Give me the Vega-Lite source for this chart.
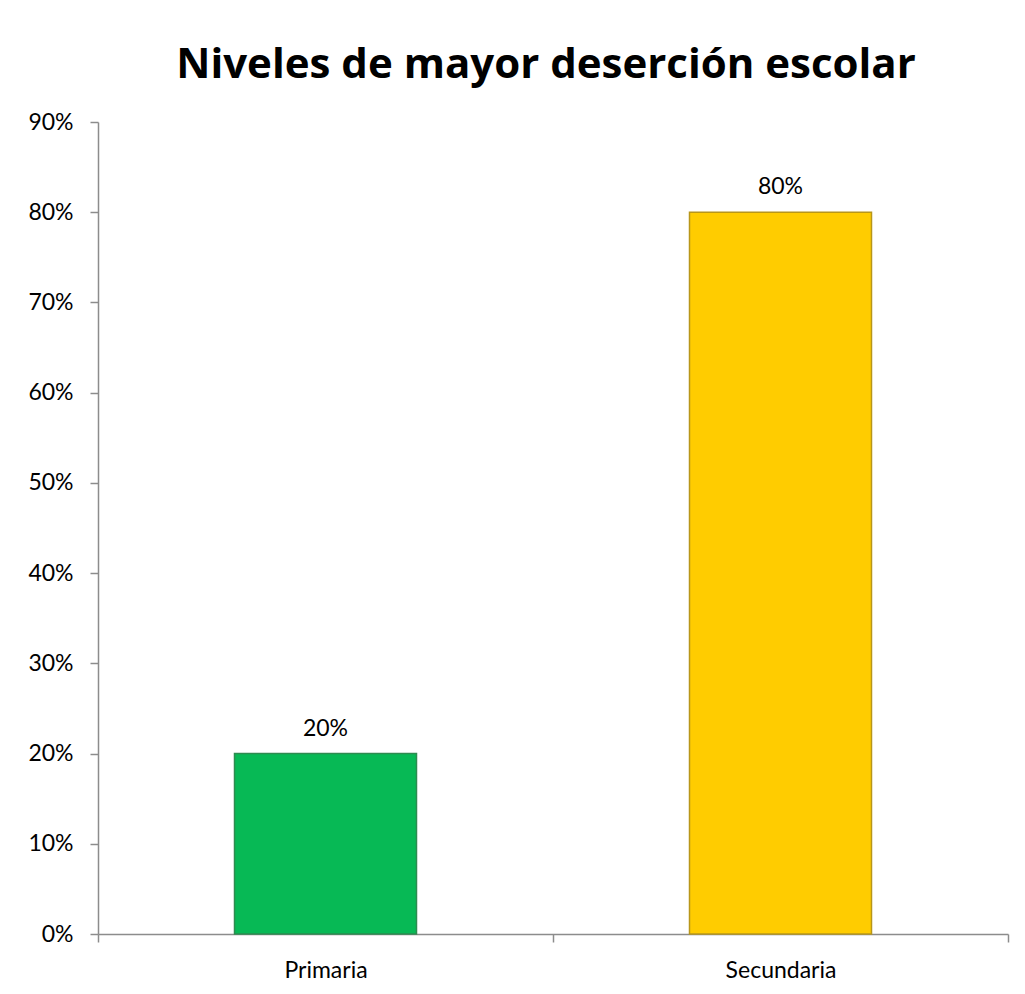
{
  "$schema": "https://vega.github.io/schema/vega-lite/v6.json",
  "autosize": "none",
  "width": 910,
  "height": 812,
  "padding": {"left": 98, "top": 122, "right": 17, "bottom": 60},
  "background": "white",
  "title": {
    "text": "Niveles de mayor deserción escolar",
    "font": "Open Sans",
    "fontSize": 42,
    "fontWeight": "bold",
    "color": "#000000",
    "anchor": "middle",
    "frame": "group",
    "offset": 24,
    "dx": -7
  },
  "data": {
    "values": [
      {"nivel": "Primaria", "valor": 0.2},
      {"nivel": "Secundaria", "valor": 0.8}
    ]
  },
  "encoding": {
    "x": {
      "field": "nivel",
      "type": "nominal",
      "sort": null,
      "title": null,
      "scale": {"paddingInner": 0, "paddingOuter": 0},
      "axis": {
        "tickBand": "extent",
        "labelAngle": 0,
        "labelFont": "Lato",
        "labelFontSize": 23,
        "labelColor": "#000000",
        "labelBaseline": "alphabetic",
        "labelPadding": 35,
        "tickSize": 8,
        "domainColor": "#8c8c8c",
        "tickColor": "#8c8c8c",
        "domainWidth": 1.5,
        "tickWidth": 1.5
      }
    },
    "y": {
      "field": "valor",
      "type": "quantitative",
      "title": null,
      "scale": {"domain": [0, 0.9], "nice": false},
      "axis": {
        "values": [0, 0.1, 0.2, 0.3, 0.4, 0.5, 0.6, 0.7, 0.8, 0.9],
        "format": ".0%",
        "grid": false,
        "labelFont": "Lato",
        "labelFontSize": 23,
        "labelColor": "#000000",
        "labelPadding": 17,
        "tickSize": 8,
        "domainColor": "#8c8c8c",
        "tickColor": "#8c8c8c",
        "domainWidth": 1.5,
        "tickWidth": 1.5
      }
    }
  },
  "layer": [
    {
      "mark": {"type": "bar", "strokeWidth": 1.5, "width": {"band": 0.4}},
      "encoding": {
        "color": {
          "field": "nivel",
          "type": "nominal",
          "scale": {"domain": ["Primaria", "Secundaria"], "range": ["#07B955", "#FFCC00"]},
          "legend": null
        },
        "stroke": {
          "field": "nivel",
          "type": "nominal",
          "scale": {"domain": ["Primaria", "Secundaria"], "range": ["#2E8B50", "#B8961A"]},
          "legend": null
        }
      }
    },
    {
      "mark": {"type": "text", "font": "Lato", "fontSize": 23, "color": "#000000", "baseline": "alphabetic", "dy": -18},
      "encoding": {
        "text": {"field": "valor", "type": "quantitative", "format": ".0%"}
      }
    }
  ],
  "config": {
    "view": {"stroke": null}
  }
}
